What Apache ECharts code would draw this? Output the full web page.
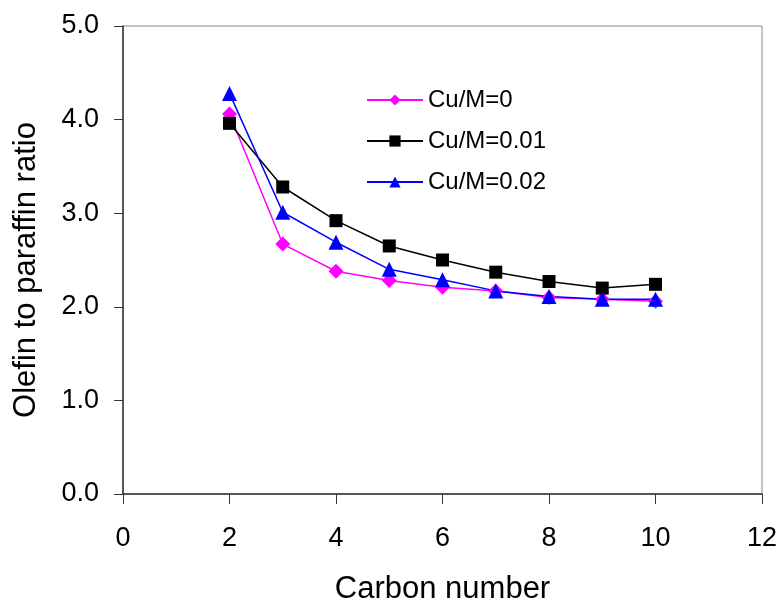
<!DOCTYPE html>
<html><head><meta charset="utf-8">
<script src="https://cdn.jsdelivr.net/npm/echarts@6/dist/echarts.min.js"></script>
<style>html,body{margin:0;padding:0;background:#fff}#c{width:780px;height:605px}</style>
</head><body><div id="c"></div>
<script>
const carbon = [2, 3, 4, 5, 6, 7, 8, 9, 10];
const cu0 = [4.06, 2.67, 2.38, 2.28, 2.21, 2.17, 2.10, 2.08, 2.06];
const cu001 = [3.96, 3.28, 2.92, 2.65, 2.50, 2.37, 2.27, 2.20, 2.24];
const cu002 = [4.28, 3.01, 2.69, 2.40, 2.29, 2.17, 2.11, 2.08, 2.08];
const seriesNames = ['Cu/M=0', 'Cu/M=0.01', 'Cu/M=0.02'];
const xTicks = [0, 2, 4, 6, 8, 10, 12];
const yTicks = [0, 1, 2, 3, 4, 5];

const font = 'Liberation Sans, Arial, sans-serif';
const pair = (ys) => carbon.map((x, i) => [x, ys[i]]);
const chart = echarts.init(document.getElementById('c'));
chart.setOption({
  animation: false,
  grid: { left: 123, right: 18, top: 26, bottom: 111, show: true, borderColor: '#888', borderWidth: 1,
          containLabel: false, outerBoundsMode: 'none' },
  legend: {
    orient: 'vertical', left: 361, top: 83, itemGap: 17, itemWidth: 56, itemHeight: 14,
    textStyle: { fontFamily: font, fontSize: 24, color: '#000' },
    data: seriesNames
  },
  xAxis: {
    type: 'value', min: xTicks[0], max: xTicks[xTicks.length - 1], interval: 2,
    name: 'Carbon number', nameLocation: 'middle', nameGap: 80,
    nameTextStyle: { fontFamily: font, fontSize: 31, color: '#000' },
    axisLine: { show: true, lineStyle: { color: '#333', width: 1.5 } },
    axisTick: { show: true, inside: false, length: 10, lineStyle: { color: '#333' } },
    axisLabel: { fontFamily: font, fontSize: 27, color: '#000', margin: 31 },
    splitLine: { show: false }
  },
  yAxis: {
    type: 'value', min: yTicks[0], max: yTicks[yTicks.length - 1], interval: 1,
    name: 'Olefin to paraffin ratio', nameLocation: 'middle', nameGap: 81, nameRotate: 90,
    nameTextStyle: { fontFamily: font, fontSize: 31, color: '#000', padding: [0, 20, 0, 0] },
    axisLine: { show: true, lineStyle: { color: '#333', width: 1.5 } },
    axisTick: { show: true, inside: false, length: 9, lineStyle: { color: '#333' } },
    axisLabel: { fontFamily: font, fontSize: 27, color: '#000', margin: 24, formatter: v => v.toFixed(1) },
    splitLine: { show: false }
  },
  series: [
    { name: seriesNames[0], type: 'line', data: pair(cu0), symbol: 'diamond', symbolSize: 15,
      lineStyle: { color: '#ff00ff', width: 1.5 }, itemStyle: { color: '#ff00ff' } },
    { name: seriesNames[1], type: 'line', data: pair(cu001), symbol: 'rect', symbolSize: 13,
      lineStyle: { color: '#000000', width: 1.5 }, itemStyle: { color: '#000000' } },
    { name: seriesNames[2], type: 'line', data: pair(cu002), symbol: 'triangle', symbolSize: 15,
      lineStyle: { color: '#0000ff', width: 1.5 }, itemStyle: { color: '#0000ff' } }
  ]
});
</script></body></html>
